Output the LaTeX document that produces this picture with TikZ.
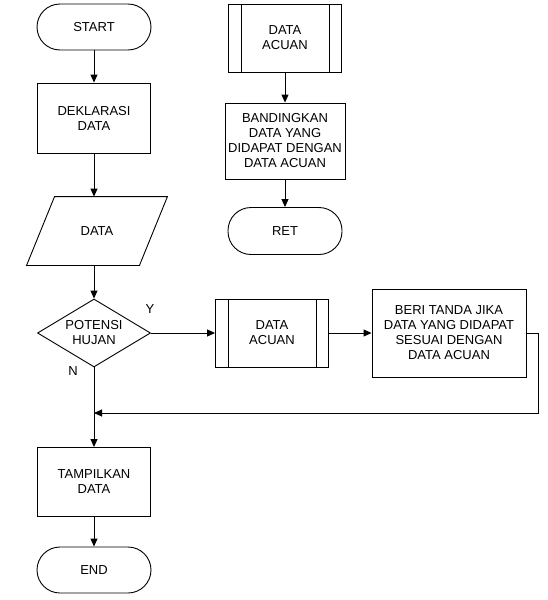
\documentclass[tikz,border=0pt]{standalone}
\usepackage{fontspec}
\setmainfont{Liberation Sans}
\usetikzlibrary{arrows.meta,shapes.geometric}

\begin{document}
\begin{tikzpicture}[x=1pt,y=-1pt,line width=0.9pt,
  >={Triangle[length=8pt,width=7pt]},
  every node/.style={font=\fontsize{13}{15}\selectfont,align=center,inner sep=0pt},
  term/.style={draw,rectangle,rounded corners=23pt,minimum width=114pt,minimum height=46pt},
  proc/.style={draw,rectangle,minimum width=113pt,minimum height=70pt},
  io/.style={rectangle,minimum width=112pt,minimum height=68pt},
  decide/.style={draw,diamond,aspect=1.66,minimum width=113pt,minimum height=68pt},
  subproc/.style={proc,minimum height=68pt}]
  \useasboundingbox (0,0) rectangle (547,600);
  % main column
  \node[term] (start) at (94,27) {START};
  \node[proc] (dekl) at (94,118) {DEKLARASI\\DATA};
  \node[io] (data) at (97,231) {DATA};
  \draw ([xshift=14pt]data.north west) -- ([xshift=14pt]data.north east)
     -- ([xshift=-14pt]data.south east) -- ([xshift=-14pt]data.south west) -- cycle;
  \node[decide] (potensi) at (94,333) {POTENSI\\HUJAN};
  \node[proc,minimum height=69pt] (tampil) at (94,482) {TAMPILKAN\\DATA};
  \node[term] (end) at (94,570) {END};
  \node (ya) at (150,309) {Y};
  \node (tidak) at (73,371) {N};
  % subroutine
  \node[subproc] (acuanA) at (285,38) {DATA\\ACUAN};
  \node[proc,minimum width=120pt,minimum height=76pt] (banding) at (285,141)
    {BANDINGKAN\\DATA YANG\\DIDAPAT DENGAN\\DATA ACUAN};
  \node[term,minimum height=47pt] (ret) at (285,231) {RET};
  % branch Y
  \node[subproc] (acuanB) at (272,333) {DATA\\ACUAN};
  \node[proc,minimum width=154pt,minimum height=88pt] (beri) at (449,333)
    {BERI TANDA JIKA\\DATA YANG DIDAPAT\\SESUAI DENGAN\\DATA ACUAN};
  \foreach \n in {acuanA,acuanB}
    \draw ([xshift=13pt]\n.north west) -- ([xshift=13pt]\n.south west)
          ([xshift=-13pt]\n.north east) -- ([xshift=-13pt]\n.south east);
  \coordinate (gabung) at (94,413);
  \draw[->] (start) -- (dekl);
  \draw[->] (dekl) -- (dekl |- data.north);
  \draw[->] (data.south -| potensi) -- (potensi);
  \draw[->] (potensi) -- (tampil);
  \draw[->] (tampil) -- (end);
  \draw[->] (acuanA) -- (banding);
  \draw[->] (banding) -- (ret);
  \draw[->] (potensi) -- (acuanB);
  \draw[->] (acuanB) -- (beri);
  \draw[->] (beri.east) -- ++(12,0) |- (gabung);
\end{tikzpicture}
\end{document}
